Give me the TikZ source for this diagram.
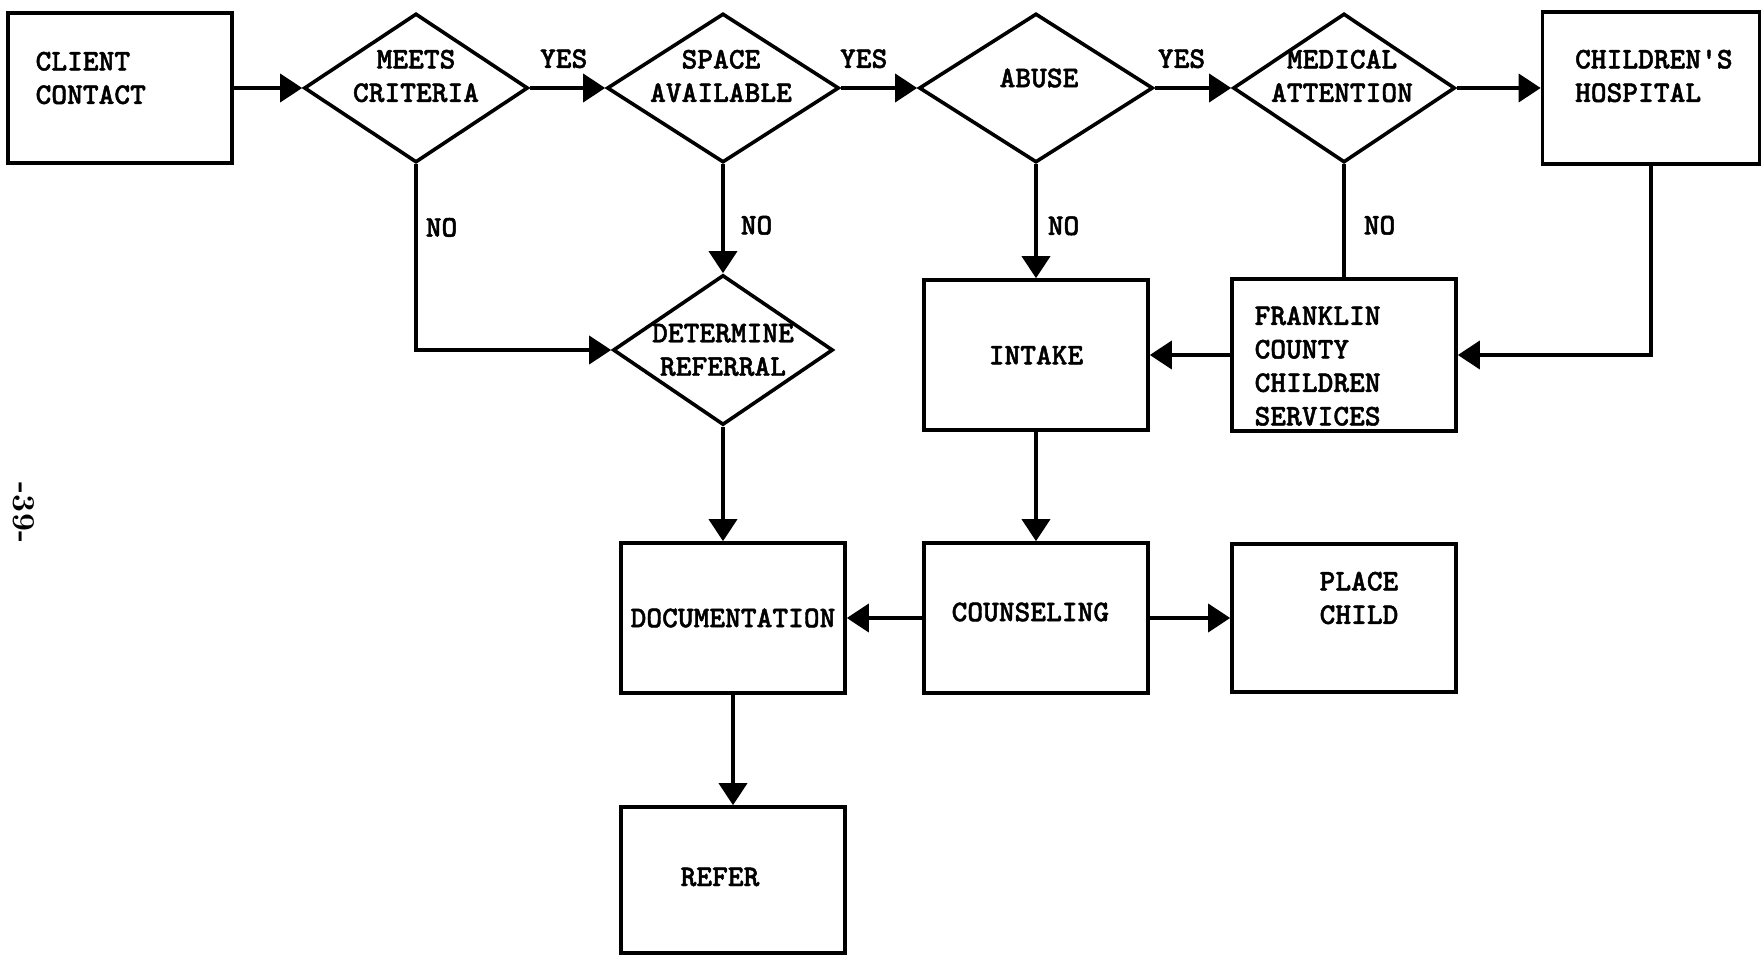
\documentclass[tikz,border=0pt]{standalone}
\usepackage{fontspec}
\usepackage{tikz}
\usetikzlibrary{arrows.meta,positioning,shapes.geometric}
\newfontfamily\flowfamily{lmmonolt10-bold.otf}[FakeBold=1.5]
\newcommand{\flowfont}{\fontsize{15}{16.75}\selectfont\flowfamily}
\tikzstyle{block} = [rectangle, draw, line width=1.8pt, minimum width=112pt, minimum height=75pt, inner sep=0pt, font=\flowfont]
\tikzstyle{decision} = [diamond, draw, line width=1.8pt, aspect=1.5, minimum width=114pt, minimum height=74.5pt, inner sep=0pt, font=\flowfont, align=center]
\tikzstyle{boxtext} = [inner sep=0pt, font=\flowfont, align=left, anchor=west]
\tikzstyle{diamtext} = [inner sep=0pt, font=\flowfont, align=center]
\tikzstyle{flow} = [line width=1.8pt, -{Triangle[length=11pt,width=14pt]}]
\tikzstyle{yeslabel} = [above=9pt, inner sep=0pt, font=\flowfont]
\tikzstyle{nolabel} = [right=4pt, inner sep=0pt, font=\flowfont]

\begin{document}
\begin{tikzpicture}[on grid]
      \useasboundingbox (0,0) rectangle (881pt,-478.5pt);
      \node[block] (ClientContact) at (60pt,-44pt) {};
      \node[decision, minimum width=112pt, right=148pt of ClientContact] (MeetsCriteria) {};
      \node[decision, minimum width=116pt, right=153.5pt of MeetsCriteria] (SpaceAvailable) {};
      \node[decision, minimum width=117pt, right=156.5pt of SpaceAvailable] (Abuse) {};
      \node[decision, minimum width=111pt, right=154pt of Abuse] (MedicalAttention) {};
      \node[block, minimum width=108.5pt, minimum height=76pt, right=153.5pt of MedicalAttention] (ChildrensHospital) {};
      %
      \node[decision, minimum width=109pt, minimum height=75pt, below=131pt of SpaceAvailable] (DetermineReferral) {DETERMINE\\REFERRAL};
      \node[block, below=133.5pt of Abuse] (Intake) {INTAKE};
      \node[block, minimum height=76pt, below=133.5pt of MedicalAttention] (FranklinCounty) {};
      \node[block, below=134pt of DetermineReferral, xshift=5pt] (Documentation) {DOCUMENTATION};
      \node[block, below=131.5pt of Intake] (Counseling) {};
      \node[block, minimum height=74pt, below=131.5pt of FranklinCounty] (PlaceChild) {};
      \node[block, minimum height=73pt, below=131pt of Documentation] (Refer) {};
      %
      \node[boxtext] (ClientContactText) at ([xshift=14.5pt, yshift=5pt]ClientContact.west) {CLIENT\\CONTACT};
      \node[diamtext] (MeetsCriteriaText) at ([xshift=0pt, yshift=6pt]MeetsCriteria.center) {MEETS\\CRITERIA};
      \node[diamtext] (SpaceAvailableText) at ([xshift=-1pt, yshift=6pt]SpaceAvailable.center) {SPACE\\AVAILABLE};
      \node[diamtext] (AbuseText) at ([xshift=1.5pt, yshift=5pt]Abuse.center) {ABUSE};
      \node[diamtext] (MedicalAttentionText) at ([xshift=-1pt, yshift=6pt]MedicalAttention.center) {MEDICAL\\ATTENTION};
      \node[boxtext] (ChildrensHospitalText) at ([xshift=17pt, yshift=6pt]ChildrensHospital.west) {CHILDREN'S\\HOSPITAL};
      \node[boxtext] (FranklinCountyText) at ([xshift=12pt, yshift=-5.5pt]FranklinCounty.west) {FRANKLIN\\COUNTY\\CHILDREN\\SERVICES};
      \node[boxtext] (CounselingText) at ([xshift=14.5pt, yshift=3pt]Counseling.west) {COUNSELING};
      \node[boxtext] (PlaceChildText) at ([xshift=44.5pt, yshift=10pt]PlaceChild.west) {PLACE\\CHILD};
      \node[diamtext] (ReferText) at ([xshift=-6.5pt, yshift=1.5pt]Refer.center) {REFER};
      \node[rotate=-90, font=\fontsize{16}{16}\selectfont\bfseries] (PageNumber) at (12pt,-256.5pt) {-39-};
      %
      \draw[flow] (ClientContact) -- (MeetsCriteria);
      \draw[flow] (MeetsCriteria) -- node[yeslabel, pos=0.45] {YES} (SpaceAvailable);
      \draw[flow] (SpaceAvailable) -- node[yeslabel, pos=0.3] {YES} (Abuse);
      \draw[flow] (Abuse) -- node[yeslabel, pos=0.35] {YES} (MedicalAttention);
      \draw[flow] (MedicalAttention) -- (ChildrensHospital);
      \draw[flow] (MeetsCriteria.south) |- node[nolabel, pos=0.17] {NO} (DetermineReferral.west);
      \draw[flow] (SpaceAvailable) -- node[nolabel, right=8pt, pos=0.56] {NO} (DetermineReferral);
      \draw[flow] (Abuse) -- node[nolabel, right=5pt, pos=0.54] {NO} (Intake);
      \draw[line width=1.8pt] (MedicalAttention) -- node[nolabel, right=9pt, pos=0.54] {NO} (FranklinCounty);
      \draw[flow] (ChildrensHospital.south) |- (FranklinCounty.east);
      \draw[flow] (FranklinCounty) -- (Intake);
      \draw[flow] (DetermineReferral.south) -- (DetermineReferral.south |- Documentation.north);
      \draw[flow] (Intake) -- (Counseling);
      \draw[flow] (Counseling) -- (Documentation);
      \draw[flow] (Counseling) -- (PlaceChild);
      \draw[flow] (Documentation) -- (Refer);
\end{tikzpicture}
\end{document}
